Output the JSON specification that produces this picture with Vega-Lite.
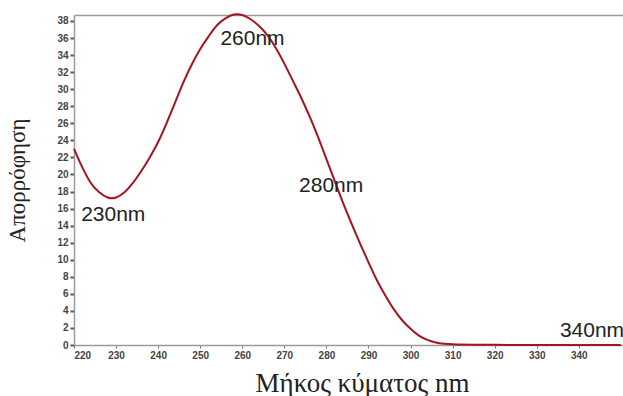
{
  "$schema": "https://vega.github.io/schema/vega-lite/v6.json",
  "autosize": "none",
  "width": 549,
  "height": 330,
  "padding": {"left": 74, "top": 15, "right": 0, "bottom": 51},
  "background": "white",
  "config": {"view": {"stroke": null}},
  "datasets": {
    "spectrum": [
      {"nm": 220, "abs": 23.0}, {"nm": 222, "abs": 20.8}, {"nm": 224, "abs": 19.0},
      {"nm": 226, "abs": 17.9}, {"nm": 228, "abs": 17.3}, {"nm": 229, "abs": 17.2},
      {"nm": 230, "abs": 17.3}, {"nm": 232, "abs": 17.9}, {"nm": 234, "abs": 19.0},
      {"nm": 236, "abs": 20.4}, {"nm": 238, "abs": 22.0}, {"nm": 240, "abs": 23.8},
      {"nm": 242, "abs": 26.0}, {"nm": 244, "abs": 28.4}, {"nm": 246, "abs": 30.8},
      {"nm": 248, "abs": 32.9}, {"nm": 250, "abs": 34.7}, {"nm": 252, "abs": 36.2},
      {"nm": 254, "abs": 37.5}, {"nm": 256, "abs": 38.3}, {"nm": 258, "abs": 38.75},
      {"nm": 259, "abs": 38.8}, {"nm": 260, "abs": 38.7}, {"nm": 262, "abs": 38.2},
      {"nm": 264, "abs": 37.4}, {"nm": 266, "abs": 36.3}, {"nm": 268, "abs": 34.8},
      {"nm": 270, "abs": 33.0}, {"nm": 272, "abs": 31.0}, {"nm": 274, "abs": 29.0},
      {"nm": 276, "abs": 26.8}, {"nm": 278, "abs": 24.4}, {"nm": 280, "abs": 21.8},
      {"nm": 282, "abs": 19.2}, {"nm": 284, "abs": 16.6}, {"nm": 286, "abs": 14.2},
      {"nm": 288, "abs": 11.9}, {"nm": 290, "abs": 9.7}, {"nm": 292, "abs": 7.6},
      {"nm": 294, "abs": 5.8}, {"nm": 296, "abs": 4.2}, {"nm": 298, "abs": 2.9},
      {"nm": 300, "abs": 1.9}, {"nm": 302, "abs": 1.1}, {"nm": 304, "abs": 0.6},
      {"nm": 306, "abs": 0.3}, {"nm": 308, "abs": 0.15}, {"nm": 310, "abs": 0.08},
      {"nm": 315, "abs": 0.03}, {"nm": 320, "abs": 0.02}, {"nm": 330, "abs": 0.0},
      {"nm": 340, "abs": 0.0}, {"nm": 350, "abs": 0.0}
    ],
    "labels": [
      {"nm": 221.7, "abs": 15.2, "text": "230nm"},
      {"nm": 254.8, "abs": 35.9, "text": "260nm"},
      {"nm": 273.5, "abs": 18.65, "text": "280nm"},
      {"nm": 335.5, "abs": 1.65, "text": "340nm"}
    ]
  },
  "resolve": {"axis": {"x": "independent", "y": "independent"}},
  "layer": [
    {
      "data": {"name": "spectrum"},
      "mark": {"type": "line", "color": "#a3151f", "strokeWidth": 2, "interpolate": "monotone"},
      "encoding": {
        "x": {
          "field": "nm", "type": "quantitative",
          "scale": {"domain": [220, 350.5], "nice": false, "zero": false},
          "axis": {
            "values": [220, 230, 240, 250, 260, 270, 280, 290, 300, 310, 320, 330, 340],
            "grid": false, "domainColor": "#9a9a9a", "domainWidth": 1.5,
            "tickColor": "#777", "tickSize": 3, "labelFontSize": 10, "labelColor": "#444",
            "labelFont": "Liberation Sans", "labelFontWeight": "bold", "labelPadding": 2,
            "labelOverlap": false,
            "title": "Μήκος κύματος nm", "titleFont": "Liberation Serif", "titleFontSize": 27,
            "titleFontWeight": "normal", "titleColor": "#222", "titleX": 288, "titlePadding": 10
          }
        },
        "y": {
          "field": "abs", "type": "quantitative",
          "scale": {"domain": [0, 38.7], "nice": false},
          "axis": {
            "values": [0, 2, 4, 6, 8, 10, 12, 14, 16, 18, 20, 22, 24, 26, 28, 30, 32, 34, 36, 38],
            "grid": false, "domainColor": "#9a9a9a", "domainWidth": 1.5,
            "tickColor": "#555", "tickSize": 4, "tickWidth": 2, "labelFontSize": 10, "labelColor": "#444",
            "labelFont": "Liberation Sans", "labelFontWeight": "bold", "labelPadding": 2,
            "labelOverlap": false,
            "title": "Απορρόφηση", "titleFont": "Liberation Serif", "titleFontSize": 23,
            "titleFontWeight": "normal", "titleColor": "#222", "titlePadding": 27
          }
        }
      }
    },
    {
      "data": {"name": "labels"},
      "mark": {"type": "text", "align": "left", "baseline": "middle", "font": "Liberation Sans", "fontSize": 21, "color": "#222"},
      "encoding": {
        "x": {
          "field": "nm", "type": "quantitative",
          "axis": {"orient": "top", "labels": false, "ticks": false, "grid": false, "title": null, "domainColor": "#9a9a9a", "domainWidth": 1.5}
        },
        "y": {"field": "abs", "type": "quantitative", "axis": null},
        "text": {"field": "text"}
      }
    }
  ]
}
